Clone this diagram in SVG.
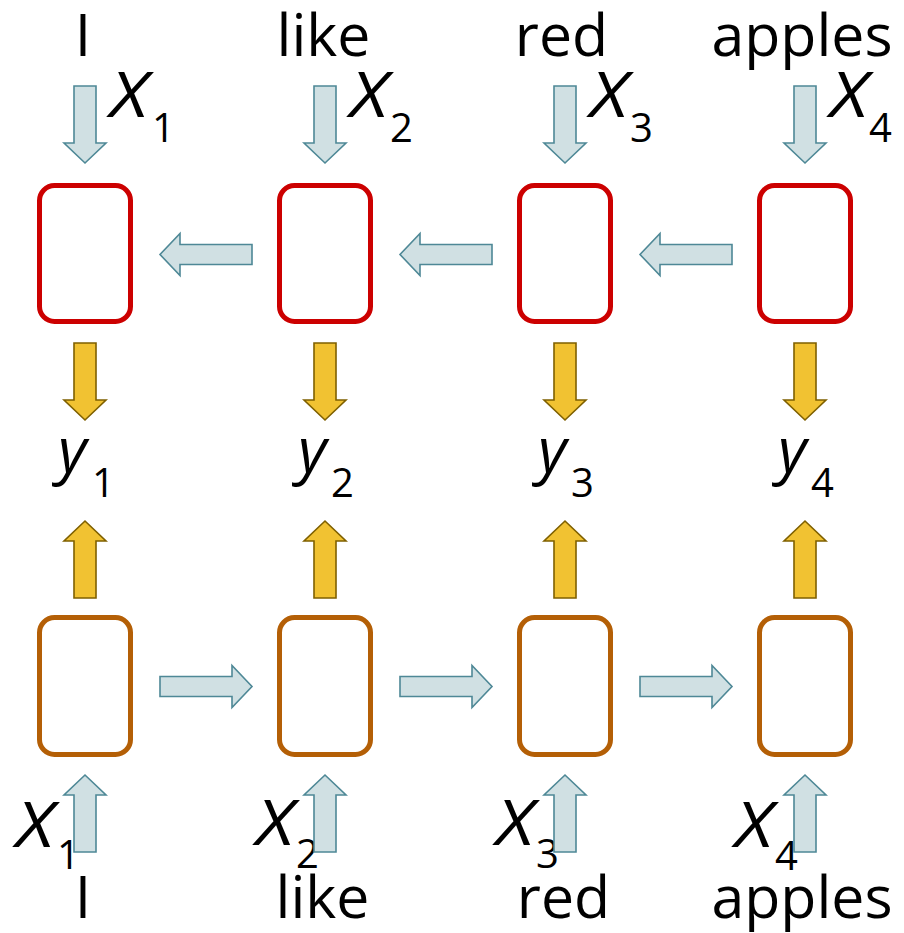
<svg xmlns="http://www.w3.org/2000/svg" xmlns:xlink="http://www.w3.org/1999/xlink" width="904" height="933" viewBox="0 0 904 933">
  <style>
    .word { font-family: "Open Sans", "Noto Sans", sans-serif; font-size: 59px; fill: #000; text-anchor: middle; }
    .sym { font-family: "Open Sans", "Noto Sans", sans-serif; font-size: 62px; font-style: italic; fill: #000; }
    .sub { font-family: "Open Sans", "Noto Sans", sans-serif; font-size: 40px; fill: #000; }
    .bwd { fill: #fff; stroke: #CC0000; stroke-width: 5; }
    .fwd { fill: #fff; stroke: #B45F06; stroke-width: 5; }
    .blue { fill: #D0E0E3; stroke: #4E8896; stroke-width: 1.6; }
    .gold { fill: #F1C232; stroke: #7F6000; stroke-width: 1.6; }
  </style>
  <defs>
    <!-- vertical block arrow pointing down, tail at origin -->
    <path id="varrow" d="M-11,0 H11 V57 H21 L0,77 L-21,57 H-11 Z"/>
    <!-- horizontal block arrow pointing right, tail at origin -->
    <path id="harrow" d="M0,-10 H72 V-21 L92,0 L72,21 V10 H0 Z"/>
  </defs>

  <!-- backward RNN cells -->
  <g id="bwd1"><rect class="bwd" x="39.5" y="185.5" width="91" height="136" rx="15"/></g>
  <g id="bwd2"><rect class="bwd" x="279.5" y="185.5" width="91" height="136" rx="15"/></g>
  <g id="bwd3"><rect class="bwd" x="519.5" y="185.5" width="91" height="136" rx="15"/></g>
  <g id="bwd4"><rect class="bwd" x="759.5" y="185.5" width="91" height="136" rx="15"/></g>

  <!-- forward RNN cells -->
  <g id="fwd1"><rect class="fwd" x="39.5" y="617.5" width="91" height="137" rx="15"/></g>
  <g id="fwd2"><rect class="fwd" x="279.5" y="617.5" width="91" height="137" rx="15"/></g>
  <g id="fwd3"><rect class="fwd" x="519.5" y="617.5" width="91" height="137" rx="15"/></g>
  <g id="fwd4"><rect class="fwd" x="759.5" y="617.5" width="91" height="137" rx="15"/></g>

  <!-- top input words -->
  <g id="in-top">
    <text class="word" x="83" y="56">I</text>
    <text class="word" x="323.5" y="56">like</text>
    <text class="word" x="561.5" y="56">red</text>
    <text class="word" x="802" y="56">apples</text>
  </g>
  <g id="x-top">
    <text class="sym" x="110" y="117" textLength="38" lengthAdjust="spacingAndGlyphs">X</text><text class="sub" x="152" y="142">1</text>
    <text class="sym" x="350" y="117" textLength="38" lengthAdjust="spacingAndGlyphs">X</text><text class="sub" x="390" y="142">2</text>
    <text class="sym" x="590" y="117" textLength="38" lengthAdjust="spacingAndGlyphs">X</text><text class="sub" x="630" y="142">3</text>
    <text class="sym" x="830" y="117" textLength="38" lengthAdjust="spacingAndGlyphs">X</text><text class="sub" x="869" y="142">4</text>
  </g>

  <!-- outputs -->
  <g id="outputs">
    <text class="sym" x="58" y="472">y</text><text class="sub" x="92" y="497">1</text>
    <text class="sym" x="298" y="472">y</text><text class="sub" x="331" y="497">2</text>
    <text class="sym" x="538" y="472">y</text><text class="sub" x="571" y="497">3</text>
    <text class="sym" x="778" y="472">y</text><text class="sub" x="811" y="497">4</text>
  </g>

  <!-- bottom input words -->
  <g id="x-bottom">
    <text class="sym" x="16" y="847" textLength="38" lengthAdjust="spacingAndGlyphs">X</text><text class="sub" x="57" y="869">1</text>
    <text class="sym" x="256" y="845" textLength="38" lengthAdjust="spacingAndGlyphs">X</text><text class="sub" x="296" y="868">2</text>
    <text class="sym" x="496" y="845" textLength="38" lengthAdjust="spacingAndGlyphs">X</text><text class="sub" x="536" y="868">3</text>
    <text class="sym" x="735" y="847" textLength="38" lengthAdjust="spacingAndGlyphs">X</text><text class="sub" x="775" y="870">4</text>
  </g>
  <g id="in-bottom">
    <text class="word" x="83" y="918">I</text>
    <text class="word" x="322.5" y="918">like</text>
    <text class="word" x="563.5" y="918">red</text>
    <text class="word" x="802" y="918">apples</text>
  </g>

  <!-- connectors -->
  <g id="connectors">
    <!-- inputs into backward cells -->
    <use href="#varrow" class="blue" transform="translate(85,86)"/>
    <use href="#varrow" class="blue" transform="translate(325,86)"/>
    <use href="#varrow" class="blue" transform="translate(565,86)"/>
    <use href="#varrow" class="blue" transform="translate(805,86)"/>
    <!-- backward recurrence -->
    <use href="#harrow" class="blue" transform="translate(252,254.5) scale(-1,1)"/>
    <use href="#harrow" class="blue" transform="translate(492,254.5) scale(-1,1)"/>
    <use href="#harrow" class="blue" transform="translate(732,254.5) scale(-1,1)"/>
    <!-- backward cells to outputs -->
    <use href="#varrow" class="gold" transform="translate(85,343)"/>
    <use href="#varrow" class="gold" transform="translate(325,343)"/>
    <use href="#varrow" class="gold" transform="translate(565,343)"/>
    <use href="#varrow" class="gold" transform="translate(805,343)"/>
    <!-- forward cells to outputs -->
    <use href="#varrow" class="gold" transform="translate(85,598) rotate(180)"/>
    <use href="#varrow" class="gold" transform="translate(325,598) rotate(180)"/>
    <use href="#varrow" class="gold" transform="translate(565,598) rotate(180)"/>
    <use href="#varrow" class="gold" transform="translate(805,598) rotate(180)"/>
    <!-- forward recurrence -->
    <use href="#harrow" class="blue" transform="translate(160,686.5)"/>
    <use href="#harrow" class="blue" transform="translate(400,686.5)"/>
    <use href="#harrow" class="blue" transform="translate(640,686.5)"/>
    <!-- inputs into forward cells -->
    <use href="#varrow" class="blue" transform="translate(85,852) rotate(180)"/>
    <use href="#varrow" class="blue" transform="translate(325,852) rotate(180)"/>
    <use href="#varrow" class="blue" transform="translate(565,852) rotate(180)"/>
    <use href="#varrow" class="blue" transform="translate(805,852) rotate(180)"/>
  </g>
</svg>
